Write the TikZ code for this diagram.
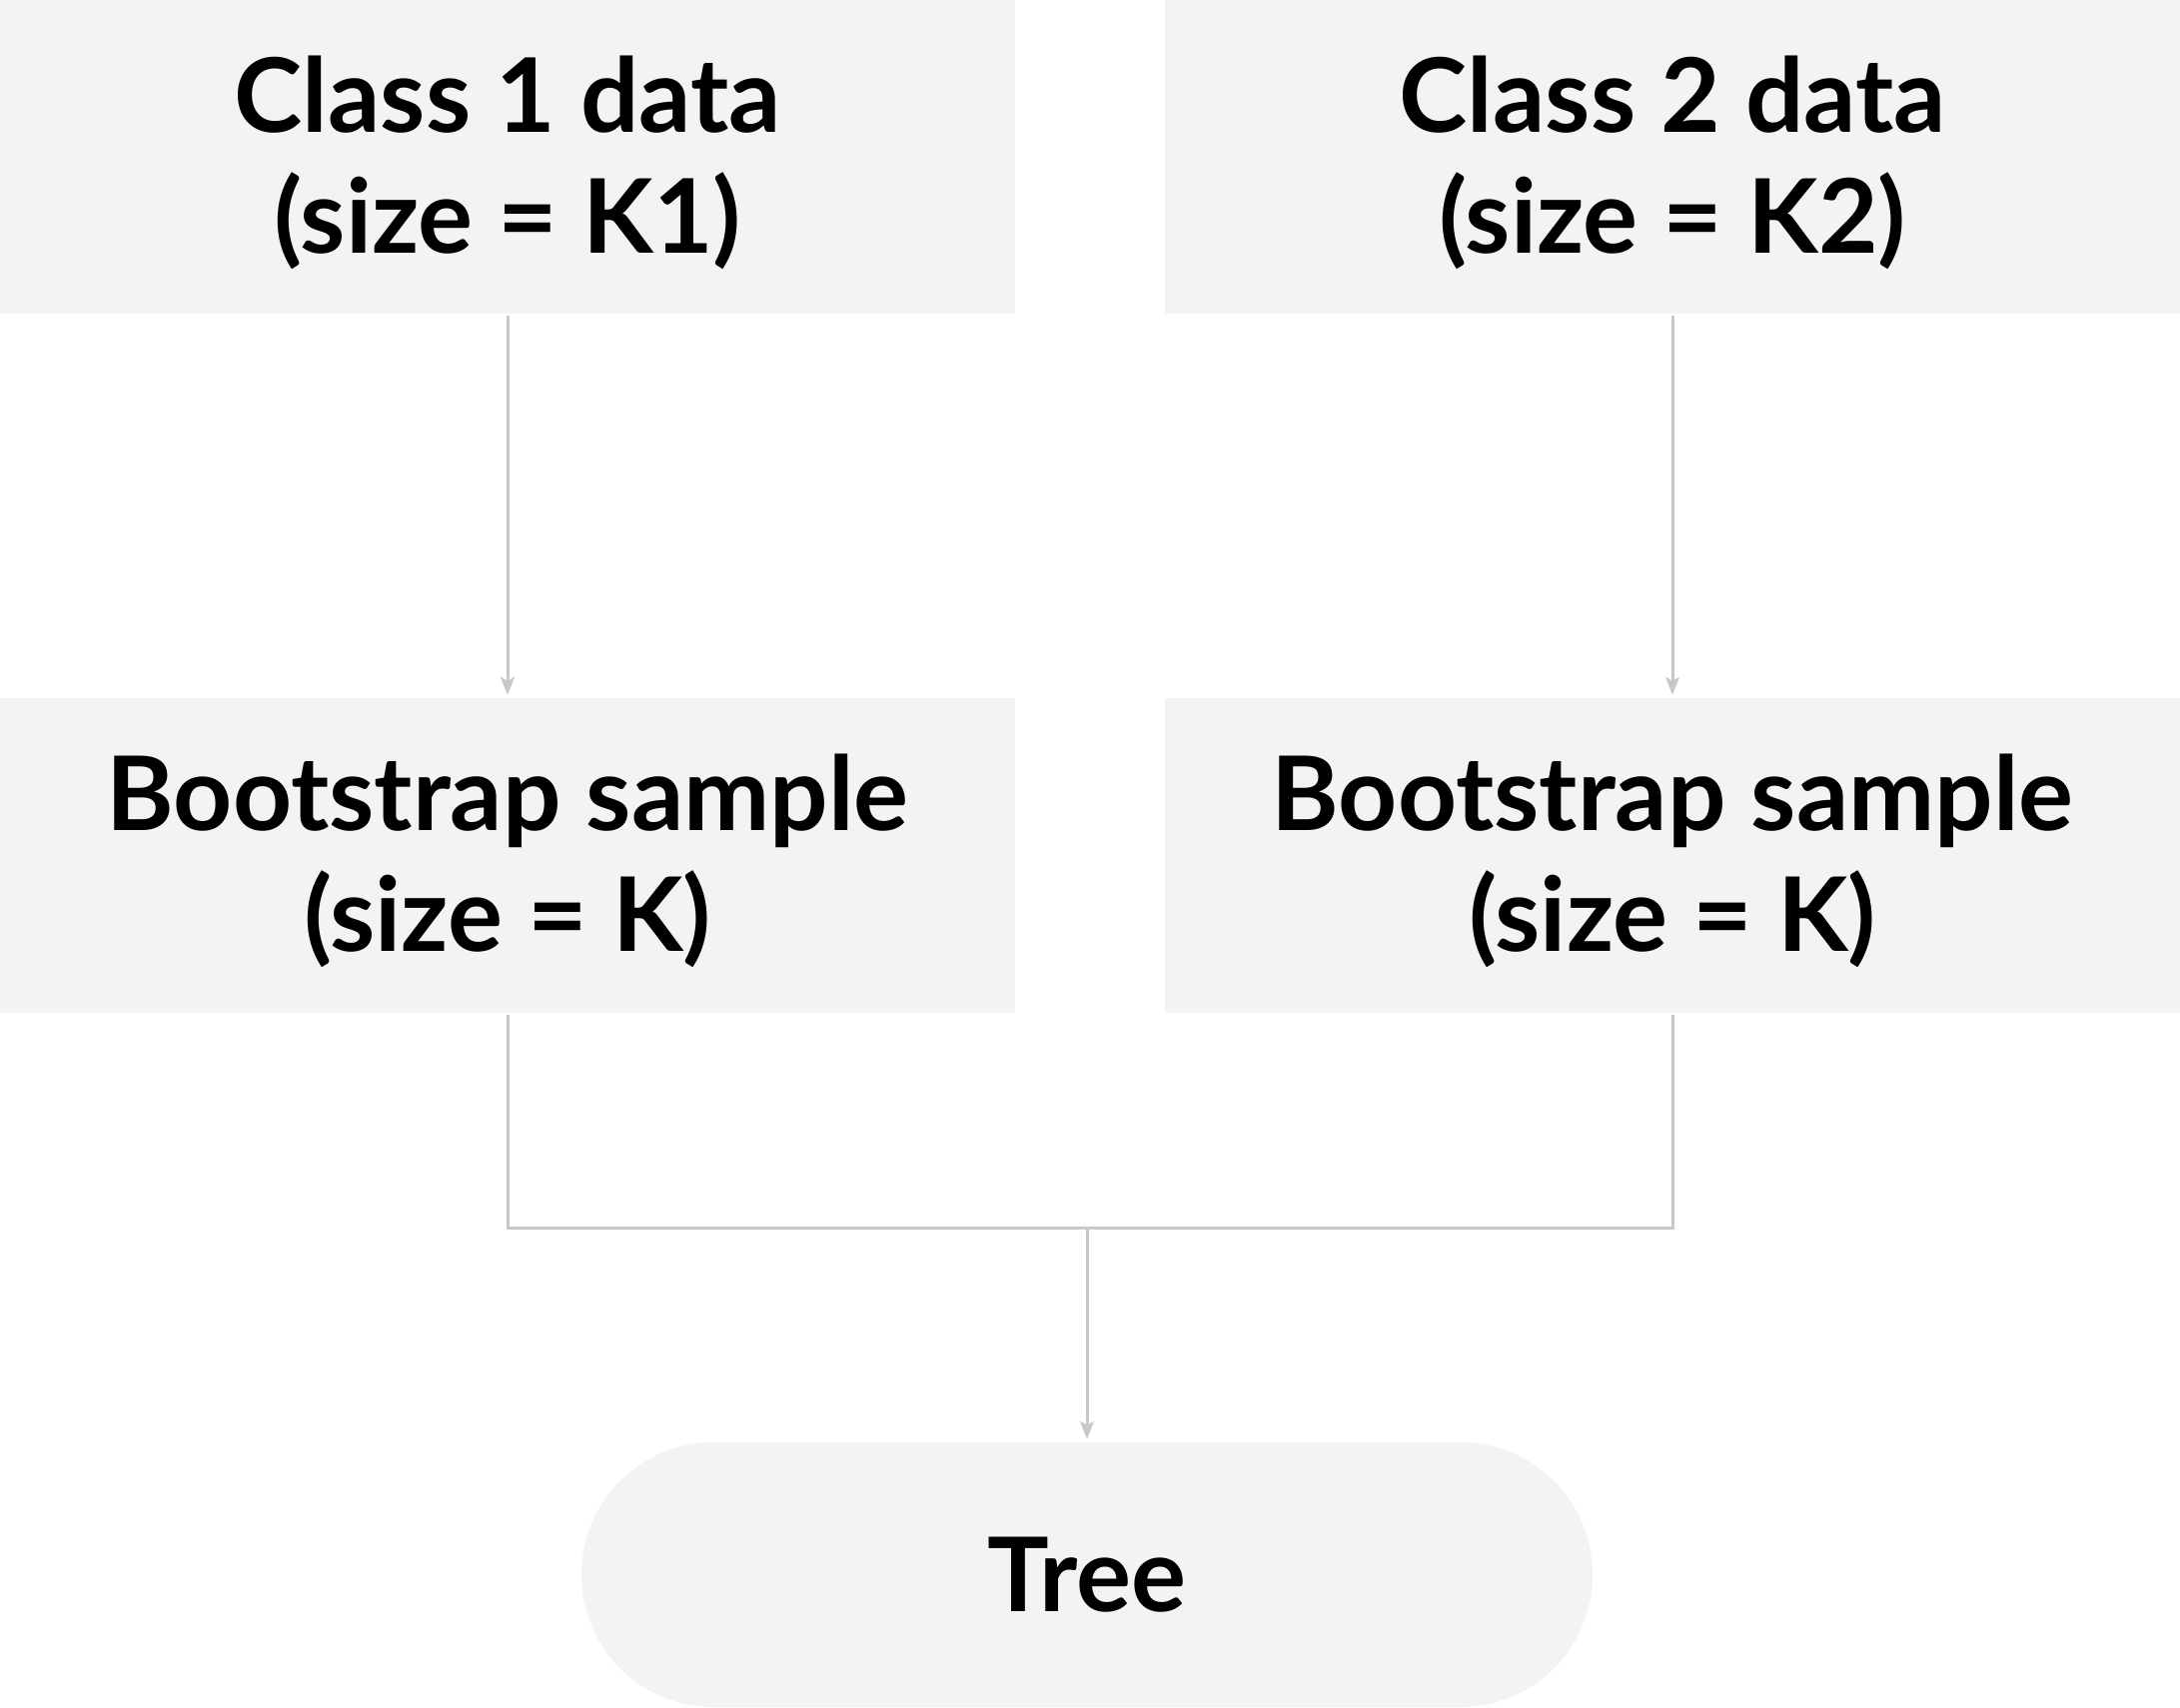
\documentclass[tikz,border=0pt]{standalone}
\usepackage{fontspec}
\setmainfont{Lato}
\usetikzlibrary{arrows.meta}
\definecolor{boxfill}{HTML}{F3F3F3}
\definecolor{conncol}{HTML}{C8C8C8}
\begin{document}
\begin{tikzpicture}[x=1pt,y=-1pt,
  txt/.style={font=\fontsize{103}{121}\selectfont\bfseries, align=center, text=black, inner sep=0pt},
  databox/.style={fill=boxfill, draw=none, rectangle, minimum width=1016pt, minimum height=314pt, inner sep=0pt},
  treebox/.style={txt, fill=boxfill, draw=none, rectangle, rounded corners=132pt, minimum width=1012pt, minimum height=265pt, inner sep=0pt},
  conn/.style={draw=conncol, line width=3pt},
  arr/.style={conn, -{Stealth[length=18pt,width=14pt,inset=4pt]}, shorten <=2pt, shorten >=3pt}]
\useasboundingbox (0,0) rectangle (2182,1710);
\node[databox] (c1) at (508,157) {};
\node[databox] (c2) at (1674,157) {};
\node[databox, minimum height=315pt] (b1) at (508,856.5) {};
\node[databox, minimum height=315pt] (b2) at (1674,856.5) {};
\node[txt, yshift=-6pt] (c1t) at (c1.center) {Class 1 data\\(size = K1)};
\node[txt, yshift=-6pt] (c2t) at (c2.center) {Class 2 data\\(size = K2)};
\node[txt, yshift=-5pt] (b1t) at (b1.center) {Bootstrap sample\\(size = K)};
\node[txt, yshift=-5pt] (b2t) at (b2.center) {Bootstrap sample\\(size = K)};
\node[treebox] (tree) at (1088,1576.5) {Tree};
\coordinate (j) at (1088,1229);
\draw[arr] (c1.south) -- (b1.north);
\draw[arr] (c2.south) -- (b2.north);
\draw[conn, shorten <=2pt] (b1.south) |- (j);
\draw[conn, shorten >=2pt] (j) -| (b2.south);
\draw[arr, shorten <=0pt] (j) -- (tree.north);
\end{tikzpicture}
\end{document}
